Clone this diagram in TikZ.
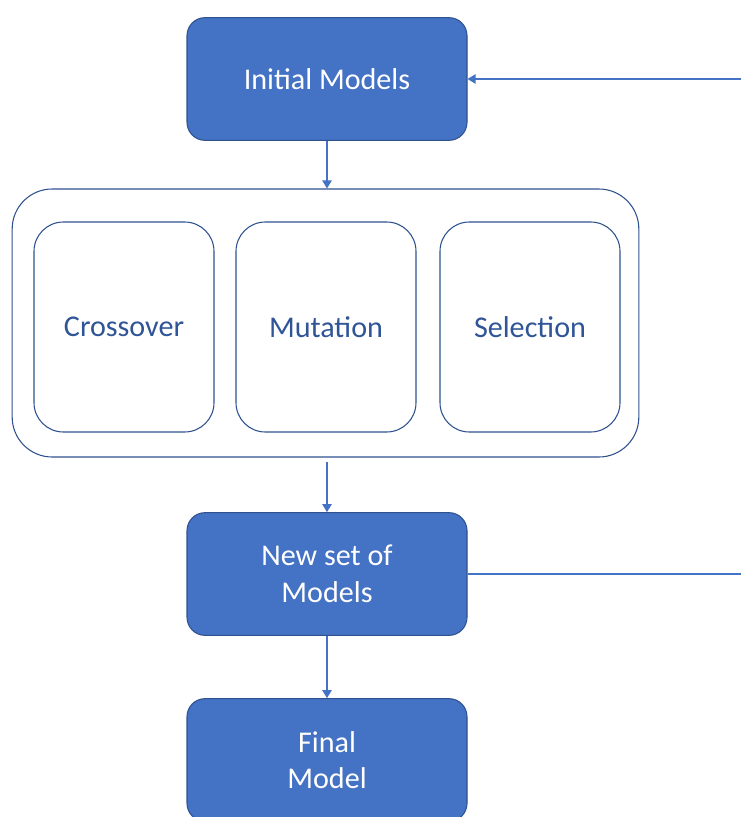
\documentclass[tikz,border=0pt]{standalone}
\usepackage{fontspec}
\setmainfont{Carlito}
\usetikzlibrary{arrows.meta}
\definecolor{boxfill}{HTML}{4472C4}
\definecolor{boxedge}{HTML}{2F528F}
\definecolor{darktext}{HTML}{2F5597}
\definecolor{linkcol}{HTML}{4472C4}
\tikzset{
  solidbox/.style={draw=boxedge, line width=0.8pt, fill=boxfill, rounded corners=13.5pt,
    minimum width=210pt, minimum height=92pt, align=center, text=white,
    font=\fontsize{22.6}{27.5}\selectfont, inner sep=0pt},
  stagebox/.style={draw=boxedge, line width=0.8pt, fill=white, rounded corners=22pt,
    minimum width=135pt, minimum height=157.5pt, text=darktext,
    font=\fontsize{22.6}{27.5}\selectfont, inner sep=0pt},
  groupbox/.style={draw=boxedge, line width=0.8pt, rounded corners=30pt,
    minimum width=470pt, minimum height=201pt, inner sep=0pt},
  link/.style={draw=linkcol, line width=1pt, -{Triangle[length=6pt,width=7pt]}},
  plainlink/.style={draw=linkcol, line width=1pt}
}
\begin{document}
\begin{tikzpicture}[x=0.75pt, y=-0.75pt]
  \useasboundingbox (0,0) rectangle (741,817);
  \begin{scope}
  \clip (0,0) rectangle (741,817);
  \node[solidbox] (init) at (327,79) {Initial Models};
  \node[groupbox] (ops) at (325.5,323) {};
  \node[stagebox] (cross) at (124,327) {Crossover};
  \node[stagebox] (mut) at (326,327) {Mutation};
  \node[stagebox] (sel) at (530,327) {Selection};
  \node[solidbox] (newset) at (327,574) {New set of\\Models};
  \node[solidbox] (final) at (327,760) {Final\\Model};
  \coordinate (loopin) at (741,79);
  \coordinate (loopout) at (741,574);

  \draw[link] (init.south) -- (init.south |- ops.north);
  \draw[link, shorten <=3pt] (newset.north |- ops.south) -- (newset.north);
  \draw[link] (newset.south) -- (final.north);
  \draw[link] (loopin) -- (init.east);
  \draw[plainlink] (newset.east) -- (loopout);
  \end{scope}
\end{tikzpicture}
\end{document}
